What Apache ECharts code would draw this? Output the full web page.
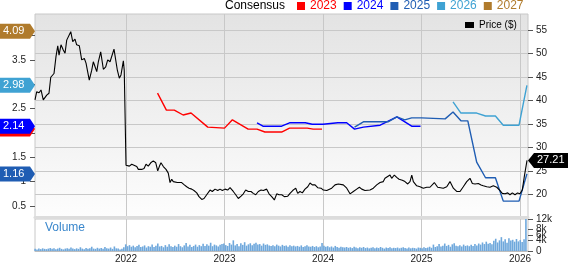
<!DOCTYPE html>
<html><head><meta charset="utf-8">
<script src="https://cdn.jsdelivr.net/npm/echarts@6/dist/echarts.min.js"></script>
<style>html,body{margin:0;padding:0;background:#fff}#c{width:568px;height:264px}</style>
</head><body><div id="c"></div>
<script>
// ---- tick labels ----
const yearTicks = [2022, 2023, 2024, 2025, 2026];
const priceTicks = [20, 25, 30, 35, 40, 45, 50, 55];
const epsTicks = [0.5, 1, 1.5, 2, 2.5, 3, 3.5, 4];
const volTicks = [0, 2, 4, 6, 8, 10, 12]; // thousands
const legendYears = ['2023', '2024', '2025', '2026', '2027'];

// ---- price (decimal year, $) ----
const priceT = [2021.076,2021.093,2021.117,2021.137,2021.160,2021.195,2021.218,2021.236,2021.269,2021.289,2021.307,2021.320,2021.340,2021.363,2021.381,2021.398,2021.439,2021.459,2021.482,2021.499,2021.526,2021.550,2021.577,2021.594,2021.611,2021.627,2021.652,2021.668,2021.703,2021.719,2021.743,2021.770,2021.794,2021.814,2021.838,2021.878,2021.912,2021.932,2021.949,2021.973,2021.982,
2022.000,2022.017,2022.034,2022.058,2022.074,2022.109,2022.125,2022.159,2022.183,2022.203,2022.226,2022.251,2022.277,2022.302,2022.322,2022.338,2022.355,2022.379,2022.406,2022.429,2022.447,2022.464,2022.480,2022.497,2022.521,2022.541,2022.565,2022.592,2022.616,2022.640,2022.667,2022.690,2022.718,2022.741,2022.769,2022.792,2022.819,2022.853,2022.876,2022.904,2022.931,2022.954,2022.978,
2023.005,2023.032,2023.056,2023.089,2023.114,2023.140,2023.168,2023.191,2023.215,2023.242,2023.269,2023.292,2023.317,2023.343,2023.371,2023.394,2023.428,2023.452,2023.479,2023.506,2023.530,2023.553,2023.581,2023.607,2023.642,2023.665,2023.692,2023.723,2023.743,2023.766,2023.790,2023.817,2023.845,2023.868,2023.891,2023.919,2023.946,2023.980,
2024.003,2024.038,2024.088,2024.122,2024.155,2024.206,2024.241,2024.274,2024.308,2024.342,2024.369,2024.393,2024.426,2024.477,2024.511,2024.545,2024.579,2024.612,2024.629,2024.647,2024.680,2024.697,2024.724,2024.748,2024.772,2024.805,2024.832,2024.860,2024.883,2024.901,2024.917,2024.951,2024.985,
2025.018,2025.053,2025.086,2025.130,2025.164,2025.221,2025.256,2025.289,2025.323,2025.357,2025.391,2025.424,2025.459,2025.492,2025.516,2025.543,2025.577,2025.604,2025.627,2025.662,2025.695,2025.729,2025.764,2025.797,2025.820,2025.848,2025.875,2025.898,2025.922,2025.949,2025.975,2025.999,2026.023,2026.043,2026.071];
const priceV = [40.1,41.8,41.6,42.2,40.1,41.1,41.5,44.9,45.7,49.3,51.6,49.6,51.8,50.7,50.0,52.8,54.6,52.5,53.0,51.8,51.6,48.6,48.9,47.9,48.2,44.3,46.4,48.2,46.1,48.2,50.3,46.6,47.1,48.6,48.2,50.9,46.4,44.7,45.4,48.4,46.4,
26.2,26.6,26.0,26.4,26.0,25.9,25.3,25.3,25.5,26.4,26.0,26.7,27.1,26.7,25.0,25.9,26.7,25.9,25.3,24.5,22.5,23.2,22.7,22.9,22.5,22.9,22.5,22.0,21.6,21.3,21.1,20.8,20.3,19.5,18.9,19.1,19.9,20.9,20.6,21.1,20.8,21.1,20.8,
21.1,20.9,21.4,20.6,19.9,19.1,19.6,20.1,20.9,20.6,20.6,20.2,19.9,20.6,20.9,20.8,21.1,20.1,19.5,18.8,20.1,19.9,19.9,19.5,19.6,20.2,20.8,21.3,20.2,20.6,20.3,21.1,21.6,22.4,22.0,22.0,21.4,21.3,
20.9,20.8,21.3,22.0,22.2,22.0,21.3,20.1,20.6,21.1,21.5,21.1,20.8,20.9,21.3,22.0,22.5,22.7,23.4,23.0,24.1,23.4,24.1,23.6,23.2,23.0,22.7,22.2,22.7,24.1,22.7,21.8,21.6,
21.3,21.5,21.5,22.5,21.5,21.3,21.6,22.7,21.3,20.6,20.6,21.6,22.7,23.4,22.3,22.2,22.3,22.0,21.8,21.6,21.5,21.8,21.5,20.8,20.2,20.1,20.3,19.9,20.3,19.9,20.3,20.1,20.9,23.7,27.21];

// ---- consensus EPS estimates (decimal year, $/share) ----
const c2023T = [2022.32,2022.41,2022.49,2022.58,2022.66,2022.83,2023.00,2023.08,2023.24,2023.33,2023.41,2023.58,2023.66,2023.84,2023.90,2023.99];
const c2023V = [2.82,2.47,2.47,2.37,2.41,2.12,2.10,2.27,2.08,2.08,2.02,2.02,2.10,2.10,2.08,2.08];
const c2024T = [2023.33,2023.39,2023.58,2023.66,2023.82,2023.89,2024.00,2024.15,2024.24,2024.32,2024.41,2024.58,2024.75,2024.90,2024.99];
const c2024V = [2.21,2.14,2.14,2.21,2.21,2.18,2.18,2.21,2.21,2.08,2.12,2.16,2.33,2.14,2.14];
const c2025T = [2024.32,2024.41,2024.66,2024.75,2024.83,2024.90,2025.00,2025.24,2025.32,2025.40,2025.47,2025.56,2025.65,2025.75,2025.83,2025.99,2026.07];
const c2025V = [2.12,2.23,2.23,2.33,2.27,2.31,2.31,2.29,2.43,2.25,2.25,1.40,1.08,1.08,0.60,0.60,1.16];
const c2026T = [2025.32,2025.40,2025.56,2025.65,2025.75,2025.83,2025.99,2026.07];
const c2026V = [2.64,2.41,2.41,2.35,2.35,2.16,2.16,2.98];
const c2027T = [2026.07];
const c2027V = [4.09];

// ---- weekly volume (thousands), first week 2021-01-29 ----
const volStart = 2021.077;
const volume = [
0.8,0.6,0.9,0.7,1.0,0.8,0.7,0.9,1.1, 0.8,1.0,0.7,0.9,1.2,0.8,0.6,0.9,1.0,0.8,1.3,0.9,0.7, 1.0,0.8,1.4,0.9,0.7,1.1,0.8,1.0,1.6,0.9,0.8,1.2,0.9, 1.1,0.8,1.5,1.0,0.9,1.3,0.8,1.7,1.0,0.9,0.6,0.8,1.4,
2.5,1.8,2.2,1.6,2.0,1.4,1.9,2.3,1.5,1.7,2.1,1.3,1.8, 1.6,2.4,1.5,2.0,2.8,1.7,1.9,1.4,2.2,1.6,2.5,1.8,1.5, 2.0,1.6,2.6,1.8,1.4,2.1,3.0,1.7,2.3,1.5,1.9,2.4,1.6, 2.2,1.8,2.7,1.9,2.5,2.0,3.1,1.8,2.4,2.1,1.7,2.3,2.6,
2.8,2.2,1.9,3.0,2.4,4.0,2.1,2.6,1.8,2.9,2.3,3.3,2.0, 2.5,2.9,2.2,2.7,3.1,2.4,2.6,2.0,2.8,2.3,2.5,2.1,1.9, 2.2,1.8,2.4,2.0,1.7,2.3,1.9,2.1,1.6,2.2,1.8,2.0,1.7, 1.9,1.6,2.1,1.5,1.8,2.2,1.7,1.6,1.9,1.5,1.8,1.4,1.7,
3.0,2.0,1.6,1.8,1.4,1.7,1.3,1.9,1.5,1.2,1.6,1.4,1.3, 1.5,1.2,1.4,1.1,1.6,1.3,1.0,1.4,1.2,1.5,1.1,1.3,1.0, 1.2,1.4,1.0,1.3,1.1,1.5,1.2,0.9,1.3,1.1,1.4,1.0,1.2, 1.1,1.3,1.0,1.2,1.4,1.1,0.9,1.3,1.0,1.2,1.1,0.9,1.3,
1.2,1.0,1.4,1.1,1.3,1.6,1.2,2.4,1.5,1.8,2.6,1.7,2.0, 2.8,1.9,2.3,1.6,2.5,2.9,2.0,1.8,2.2,1.7,2.4,1.9,2.1, 1.8,2.3,1.9,2.6,2.1,2.8,2.4,3.2,2.6,3.5,2.7,3.0,2.5, 3.8,4.6,3.2,4.0,5.2,3.6,4.4,3.1,4.8,3.9,4.2,3.5,4.5,
3.6,4.1,3.4,4.4,12.3];

const colors = { '2023': '#ff0000', '2024': '#0000ff', '2025': '#1f5db3', '2026': '#3fa2d3', '2027': '#b07b2c' };
const cons = [
  { name: '2023', t: c2023T, v: c2023V },
  { name: '2024', t: c2024T, v: c2024V },
  { name: '2025', t: c2025T, v: c2025V },
  { name: '2026', t: c2026T, v: c2026V },
  { name: '2027', t: c2027T, v: c2027V }
];
const zip = (a, b) => a.map((x, i) => [x, b[i]]);
const WEEK = 7 / 365.25;

const FONT = 'Liberation Sans, Arial, sans-serif';
const gridColor = '#c8c8c8';
const X0 = 2021.076, X1 = 2026.081;

const chart = echarts.init(document.getElementById('c'), null, { renderer: 'canvas' });

const option = {
  animation: false,
  textStyle: { fontFamily: FONT },
  grid: [
    { left: 35, top: 14, width: 493, height: 203, show: true, borderColor: gridColor, borderWidth: 1,
      backgroundColor: { type: 'linear', x: 0, y: 0, x2: 0, y2: 1, colorStops: [{ offset: 0, color: '#e3e3e3' }, { offset: 1, color: '#fdfdfd' }] } },
    { left: 35, top: 219, width: 493, height: 34, show: true, borderColor: gridColor, borderWidth: 1, backgroundColor: '#ffffff' }
  ],
  xAxis: [
    { type: 'value', gridIndex: 0, min: X0, max: X1,
      axisLine: { show: true, onZero: false, lineStyle: { color: '#dcdcdc', width: 3 } },
      axisTick: { show: false, customValues: yearTicks },
      axisLabel: { show: false, customValues: yearTicks },
      splitLine: { show: true, lineStyle: { color: gridColor, width: 1 } } },
    { type: 'value', gridIndex: 1, min: X0, max: X1,
      axisLine: { show: true, onZero: false, lineStyle: { color: '#bdbdbd', width: 1 } },
      axisTick: { show: false, customValues: yearTicks },
      axisLabel: { show: true, customValues: yearTicks, formatter: v => String(Math.round(v)), color: '#222', fontSize: 10, margin: 3, fontFamily: FONT },
      splitLine: { show: true, lineStyle: { color: gridColor, width: 1 } } }
  ],
  yAxis: [
    { type: 'value', gridIndex: 0, position: 'left', min: 0.274, max: 4.445,
      axisLine: { show: false },
      axisTick: { show: true, length: 5, customValues: epsTicks, lineStyle: { color: '#555' } },
      axisLabel: { customValues: epsTicks, color: '#222', fontSize: 10, margin: 9, fontFamily: FONT, formatter: v => String(v) },
      splitLine: { show: false } },
    { type: 'value', gridIndex: 0, position: 'right', min: 15.17, max: 58.36,
      axisLine: { show: false },
      axisTick: { show: true, length: 5, customValues: priceTicks, lineStyle: { color: '#555' } },
      axisLabel: { customValues: priceTicks, color: '#222', fontSize: 10, margin: 8, fontFamily: FONT },
      splitLine: { show: true, lineStyle: { color: gridColor, width: 1 } } },
    { type: 'value', gridIndex: 1, position: 'right', min: 0, max: 12,
      axisLine: { show: false },
      axisTick: { show: true, length: 5, customValues: volTicks, lineStyle: { color: '#555' } },
      axisLabel: { customValues: volTicks, color: '#222', fontSize: 10, margin: 8, fontFamily: FONT,
        showMinLabel: true, showMaxLabel: true, hideOverlap: false,
        formatter: v => v === 0 ? '0' : v + 'k' },
      splitLine: { show: false } }
  ],
  legend: [
    { left: 297, top: 0, padding: 0, itemGap: 7, itemWidth: 8, itemHeight: 8, icon: 'rect',
      textStyle: { fontSize: 12, fontFamily: FONT },
      data: legendYears.map(n => ({ name: n, textStyle: { color: colors[n] } })) },
    { left: 465, top: 20, padding: 0, itemWidth: 9, itemHeight: 6, icon: 'rect',
      textStyle: { fontSize: 10, color: '#000', fontFamily: FONT },
      data: ['Price ($)'] }
  ],
  series: [
    { name: 'Volume', type: 'bar', xAxisIndex: 1, yAxisIndex: 2, barWidth: 1.6,
      itemStyle: { color: '#6fa8dc' },
      data: volume.map((v, i) => [volStart + i * WEEK, v]) },
    { name: 'Price ($)', type: 'line', xAxisIndex: 0, yAxisIndex: 1, symbol: 'none', z: 4,
      lineStyle: { color: '#000', width: 1.1 }, itemStyle: { color: '#000' },
      data: zip(priceT, priceV) }
  ].concat(cons.map(c => ({
    name: c.name, type: 'line', xAxisIndex: 0, yAxisIndex: 0, symbol: 'none', z: 3,
    lineStyle: { color: colors[c.name], width: 1.4 }, itemStyle: { color: colors[c.name] },
    data: zip(c.t, c.v)
  })))
};
chart.setOption(option);

// badges at last values
function leftBadge(y, color, text, z) {
  return { type: 'group', children: [
    { type: 'polygon', z: z, zlevel: 1, shape: { points: [[0, y - 7.5], [30, y - 7.5], [35, y], [30, y + 7.5], [0, y + 7.5]] }, style: { fill: color } },
    { type: 'text', z: z + 1, zlevel: 1, x: 3, y: y, style: { text: text, fill: '#fff', font: '11px ' + FONT, verticalAlign: 'middle', align: 'left' } }
  ] };
}
const graphics = [
  { type: 'text', left: 225, top: 0, style: { text: 'Consensus', fill: '#000', font: '12px ' + FONT } },
  { type: 'text', left: 45, top: 222, style: { text: 'Volume', fill: '#3a87cc', font: '12px ' + FONT } }
];
cons.forEach((c, k) => {
  const n = c.t.length - 1;
  const p = chart.convertToPixel({ xAxisIndex: 0, yAxisIndex: 0 }, [c.t[n], c.v[n]]);
  graphics.push(leftBadge(p[1], colors[c.name], c.v[n].toFixed(2), 10 + k * 2));
});
{
  const n = priceT.length - 1;
  const p = chart.convertToPixel({ xAxisIndex: 0, yAxisIndex: 1 }, [priceT[n], priceV[n]]);
  const y = p[1];
  graphics.push({ type: 'group', children: [
    { type: 'polygon', z: 30, zlevel: 1, shape: { points: [[528, y], [534, y - 7.5], [568, y - 7.5], [568, y + 7.5], [534, y + 7.5]] }, style: { fill: '#000' } },
    { type: 'text', z: 31, zlevel: 1, x: 537, y: y, style: { text: priceV[n].toFixed(2), fill: '#fff', font: '11px ' + FONT, verticalAlign: 'middle' } }
  ] });
}
chart.setOption({ graphic: graphics });
</script>
</body></html>
